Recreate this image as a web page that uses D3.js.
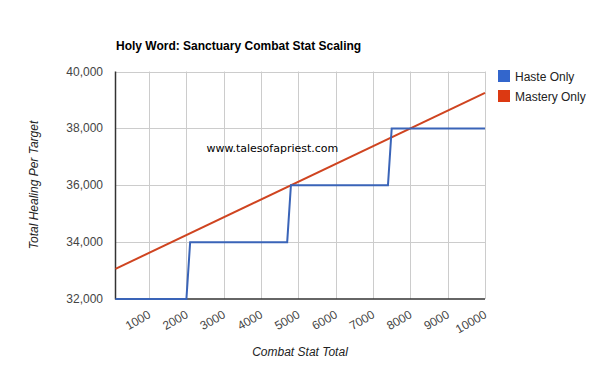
<!DOCTYPE html>
<html><head><meta charset="utf-8">
<script src="https://cdn.jsdelivr.net/npm/d3@7"></script>
<style>body{margin:0;background:#fff}svg{display:block}</style>
</head><body>
<svg id="c" width="600" height="371"></svg>
<script>
const title = "Holy Word: Sanctuary Combat Stat Scaling";
const xTicks = [1000,2000,3000,4000,5000,6000,7000,8000,9000,10000];
const yTicks = [32000,34000,36000,38000,40000];
const seriesNames = ["Haste Only","Mastery Only"];
const seriesColors = ["#3366cc","#dc3912"];
const lineColors = ["#3a64b8","#cf4420"];
const hasteX = [100,2000,2100,4700,4800,7400,7500,10000];
const hasteY = [32000,32000,34000,34000,36000,36000,38000,38000];
const masteryX = [100,10000];
const masteryY = [33060,39250];

const svg = d3.select("#c");
const L=115.5, R=485, T=71.5, B=299;
const x = d3.scaleLinear().domain([100,10000]).range([L,R]);
const y = d3.scaleLinear().domain([32000,40000]).range([B,T]);

// grid
svg.append("g").selectAll("line").data(xTicks).join("line")
  .attr("x1",d=>Math.round(x(d))+0.5).attr("x2",d=>Math.round(x(d))+0.5)
  .attr("y1",T).attr("y2",B).attr("stroke","#cccccc").attr("stroke-width",1);
svg.append("g").selectAll("line").data(yTicks.slice(1)).join("line")
  .attr("x1",L).attr("x2",R)
  .attr("y1",d=>Math.round(y(d))+0.5).attr("y2",d=>Math.round(y(d))+0.5)
  .attr("stroke","#cccccc").attr("stroke-width",1);

// axes lines
svg.append("line").attr("x1",L).attr("x2",L).attr("y1",T).attr("y2",B+0.5).attr("stroke","#333").attr("stroke-width",1.5);
svg.append("line").attr("x1",L).attr("x2",R).attr("y1",B).attr("y2",B).attr("stroke","#333").attr("stroke-width",1.5);

// y tick labels
svg.append("g").selectAll("text").data(yTicks).join("text")
  .attr("x",103).attr("y",d=>y(d)+4)
  .attr("text-anchor","end").attr("font-family","Liberation Sans, Arial, sans-serif")
  .attr("font-size",12).attr("fill","#444")
  .text(d=>d3.format(",")(d));

// x tick labels rotated
svg.append("g").selectAll("text").data(xTicks).join("text")
  .attr("transform",d=>`translate(${x(d)+2.5},${317}) rotate(-30)`)
  .attr("text-anchor","end").attr("font-family","Liberation Sans, Arial, sans-serif")
  .attr("font-size",12).attr("fill","#444")
  .text(d=>d);

// lines
const line = d3.line().x(d=>x(d[0])).y(d=>y(d[1]));
svg.append("path").datum(masteryX.map((v,i)=>[v,masteryY[i]]))
  .attr("d",line).attr("fill","none").attr("stroke",lineColors[1]).attr("stroke-width",2);
svg.append("path").datum(hasteX.map((v,i)=>[v,hasteY[i]]))
  .attr("d",line).attr("fill","none").attr("stroke",lineColors[0]).attr("stroke-width",2);

// title
svg.append("text").attr("x",116).attr("y",50).attr("font-family","Liberation Sans, Arial, sans-serif")
  .attr("font-size",12).attr("font-weight","bold").attr("fill","#000").text(title);

// watermark
svg.append("text").attr("x",206.5).attr("y",152).attr("font-family","DejaVu Sans, sans-serif")
  .attr("font-size",11).attr("fill","#000").text("www.talesofapriest.com");

// axis titles
svg.append("text").attr("x",300).attr("y",356).attr("text-anchor","middle")
  .attr("font-family","Liberation Sans, Arial, sans-serif").attr("font-size",12)
  .attr("font-style","italic").attr("fill","#222").text("Combat Stat Total");
svg.append("text").attr("transform","translate(38,185) rotate(-90)").attr("text-anchor","middle")
  .attr("font-family","Liberation Sans, Arial, sans-serif").attr("font-size",12)
  .attr("font-style","italic").attr("fill","#222").text("Total Healing Per Target");

// legend
const lg = svg.append("g").selectAll("g").data(seriesNames).join("g")
  .attr("transform",(d,i)=>`translate(498,${70+i*20})`);
lg.append("rect").attr("width",12).attr("height",12).attr("fill",(d,i)=>seriesColors[i]);
lg.append("text").attr("x",17).attr("y",10.5).attr("font-family","Liberation Sans, Arial, sans-serif")
  .attr("font-size",12).attr("fill","#222").text(d=>d);
</script>
</body></html>
